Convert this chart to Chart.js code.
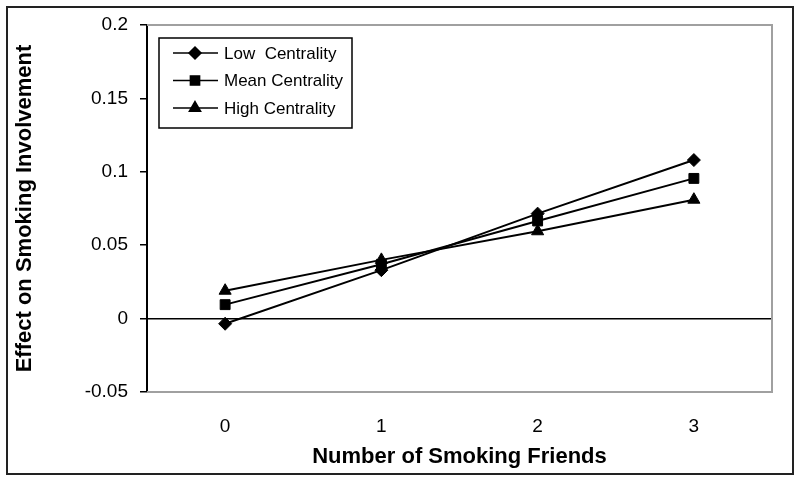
<!DOCTYPE html>
<html><head><meta charset="utf-8">
<script src="https://cdn.jsdelivr.net/npm/chart.js@4"></script>
<style>html,body{margin:0;padding:0;background:#fff}#wrap{width:800px;height:482px;position:relative}</style>
</head><body><div id="wrap"><canvas id="c" width="800" height="482"></canvas></div>
<script>
const categories = ['0', '1', '2', '3'];
const lowCentrality = [-0.0035, 0.033, 0.0715, 0.108];
const meanCentrality = [0.0095, 0.037, 0.0665, 0.0955];
const highCentrality = [0.019, 0.040, 0.0595, 0.081];
const seriesNames = ['Low  Centrality', 'Mean Centrality', 'High Centrality'];
const yTicks = [-0.05, 0, 0.05, 0.1, 0.15, 0.2];
const xTitle = 'Number of Smoking Friends';
const yTitle = 'Effect on Smoking Involvement';

const FONT = "'Liberation Sans', Arial, sans-serif";
const markers = [
  {style: 'rectRot', radius: 6.5},
  {style: 'rect', radius: 7},
  {style: 'triangle', radius: 7}
];
const seriesData = [lowCentrality, meanCentrality, highCentrality];

const datasets = seriesData.map((d, i) => ({
  label: seriesNames[i],
  data: d,
  borderColor: '#000',
  borderWidth: 2,
  backgroundColor: '#000',
  pointStyle: markers[i].style,
  pointRadius: markers[i].radius,
  pointHoverRadius: markers[i].radius,
  pointBackgroundColor: '#000',
  pointBorderColor: '#000',
  pointBorderWidth: 1,
  tension: 0,
  fill: false
}));

const framePlugin = {
  id: 'frame',
  beforeDatasetsDraw(chart) {
    const {ctx, chartArea: a} = chart;
    ctx.save();
    ctx.strokeStyle = '#a0a0a0';
    ctx.lineWidth = 2;
    ctx.beginPath();
    ctx.moveTo(a.left, a.top);
    ctx.lineTo(a.right, a.top);
    ctx.lineTo(a.right, a.bottom);
    ctx.lineTo(a.left, a.bottom);
    ctx.stroke();
    ctx.restore();
  },
  afterDraw(chart) {
    const ctx = chart.ctx;
    ctx.save();
    // outer border
    ctx.strokeStyle = '#222';
    ctx.lineWidth = 2;
    ctx.strokeRect(7, 7, 786, 467);
    // legend box
    ctx.strokeStyle = '#000';
    ctx.lineWidth = 1.5;
    ctx.strokeRect(159, 38, 193, 90);
    chart.data.datasets.forEach((ds, i) => {
      const cy = 53 + i * 27.5;
      ctx.strokeStyle = '#000';
      ctx.lineWidth = 1.5;
      ctx.beginPath();
      ctx.moveTo(173, cy);
      ctx.lineTo(218, cy);
      ctx.stroke();
      ctx.fillStyle = '#000';
      Chart.helpers.drawPoint(ctx, {pointStyle: ds.pointStyle, radius: ds.pointRadius - 0.5, rotation: 0, borderWidth: 1}, 195, cy);
      ctx.fillStyle = '#000';
      ctx.font = '17px ' + FONT;
      ctx.textBaseline = 'middle';
      ctx.textAlign = 'left';
      ctx.fillText(ds.label, 224, cy + 1);
    });
    ctx.restore();
  }
};

new Chart(document.getElementById('c'), {
  type: 'line',
  data: {labels: categories, datasets},
  options: {
    responsive: false,
    devicePixelRatio: 1,
    animation: false,
    layout: {padding: {left: 0, top: 25, right: 28, bottom: 0}},
    plugins: {legend: {display: false}, tooltip: {enabled: false}},
    scales: {
      x: {
        type: 'category',
        offset: true,
        grid: {display: false, drawTicks: false},
        border: {display: false},
        ticks: {color: '#000', font: {family: FONT, size: 19}, padding: 23},
        title: {display: true, text: xTitle, color: '#000', font: {family: FONT, size: 22, weight: 'bold'}, padding: {top: 0, bottom: 12}},
        afterFit(s) { s.height = 90; }
      },
      y: {
        type: 'linear',
        min: -0.05,
        max: 0.2,
        afterBuildTicks(s) { s.ticks = yTicks.map(v => ({value: v})); },
        ticks: {
          color: '#000',
          font: {family: FONT, size: 19},
          padding: 12,
          callback: v => String(Math.round(v * 100) / 100)
        },
        grid: {
          drawOnChartArea: true,
          drawTicks: true,
          tickLength: 7,
          tickColor: '#000',
          tickWidth: 1.5,
          lineWidth: 1.5,
          color: c => (c.tick && c.tick.value === 0) ? '#000' : 'rgba(0,0,0,0)'
        },
        border: {display: true, color: '#000', width: 2},
        title: {display: true, text: yTitle, color: '#000', font: {family: FONT, size: 22, weight: 'bold'}, padding: {top: 12, bottom: 0}},
        afterFit(s) { s.width = 147; }
      }
    }
  },
  plugins: [framePlugin]
});
</script>
</body></html>
